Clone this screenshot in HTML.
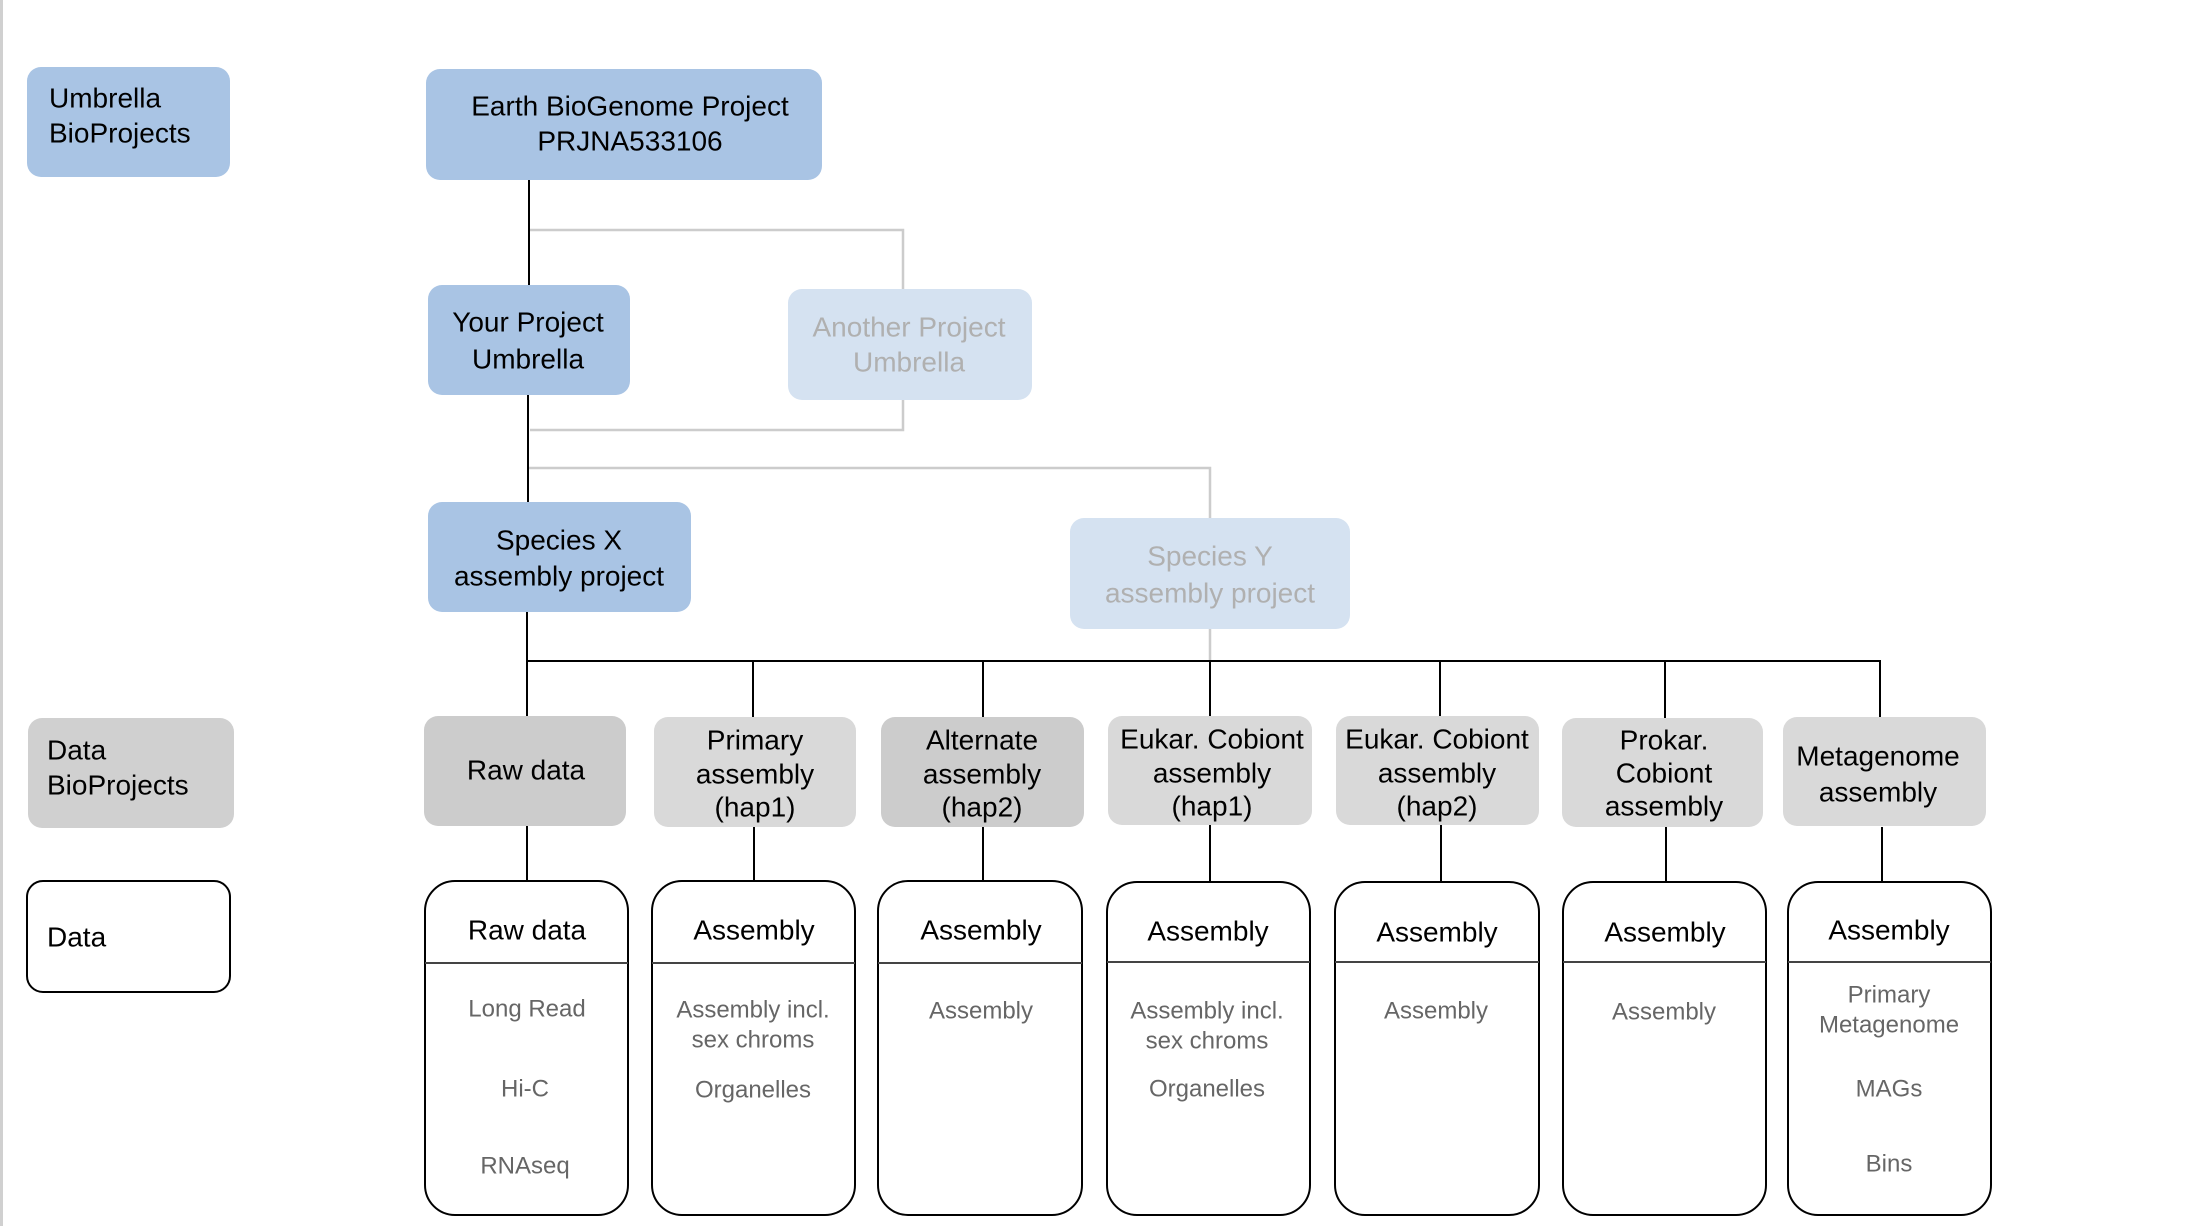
<!DOCTYPE html>
<html><head><meta charset="utf-8"><style>
html,body{margin:0;padding:0;background:#fff;}
svg{display:block;font-family:"Liberation Sans",Arial,sans-serif;}
.t{font-size:28px;fill:#000;text-anchor:middle;dominant-baseline:central;}
.l{font-size:28px;fill:#000;dominant-baseline:central;}
.f{font-size:28px;fill:#b0b0b0;text-anchor:middle;dominant-baseline:central;}
.g{font-size:24px;fill:#666;text-anchor:middle;dominant-baseline:central;}
</style></head><body>
<svg width="2196" height="1226" viewBox="0 0 2196 1226" xmlns="http://www.w3.org/2000/svg">
<line x1="1.5" y1="0" x2="1.5" y2="1226" stroke="#d0d0d0" stroke-width="3"/>
<!-- gray connectors -->
<g stroke="#cccccc" stroke-width="2.5" fill="none">
<polyline points="529,230 903,230 903,289"/>
<polyline points="903,400 903,430 530,430"/>
<polyline points="528,468 1210,468 1210,518"/>
<line x1="1210" y1="629" x2="1210" y2="661"/>
</g>
<!-- black connectors -->
<g stroke="#000" stroke-width="2" fill="none">
<line x1="529" y1="180" x2="529" y2="285"/>
<line x1="528" y1="395" x2="528" y2="502"/>
<line x1="527" y1="612" x2="527" y2="716"/>
<line x1="527" y1="661" x2="1881" y2="661"/>
<line x1="753" y1="661" x2="753" y2="717"/>
<line x1="983" y1="661" x2="983" y2="717"/>
<line x1="1210" y1="661" x2="1210" y2="717"/>
<line x1="1440" y1="661" x2="1440" y2="717"/>
<line x1="1665" y1="661" x2="1665" y2="718"/>
<line x1="1880" y1="661" x2="1880" y2="718"/>
<line x1="527" y1="826" x2="527" y2="882"/>
<line x1="754" y1="827" x2="754" y2="882"/>
<line x1="983" y1="827" x2="983" y2="882"/>
<line x1="1210" y1="825" x2="1210" y2="882"/>
<line x1="1441" y1="825" x2="1441" y2="882"/>
<line x1="1666" y1="827" x2="1666" y2="882"/>
<line x1="1882" y1="827" x2="1882" y2="882"/>
</g>
<!-- blue boxes -->
<g fill="#a9c4e4">
<rect x="27" y="67" width="203" height="110" rx="14"/>
<rect x="426" y="69" width="396" height="111" rx="14"/>
<rect x="428" y="285" width="202" height="110" rx="14"/>
<rect x="428" y="502" width="263" height="110" rx="14"/>
</g>
<g fill="#d5e2f1">
<rect x="788" y="289" width="244" height="111" rx="14"/>
<rect x="1070" y="518" width="280" height="111" rx="14"/>
</g>
<text class="l" x="49" y="98">Umbrella</text>
<text class="l" x="49" y="133">BioProjects</text>
<text class="t" x="630" y="106">Earth BioGenome Project</text>
<text class="t" x="630" y="141">PRJNA533106</text>
<text class="t" x="528" y="322">Your Project</text>
<text class="t" x="528" y="359">Umbrella</text>
<text class="f" x="909" y="327">Another Project</text>
<text class="f" x="909" y="362">Umbrella</text>
<text class="t" x="559" y="540">Species X</text>
<text class="t" x="559" y="576">assembly project</text>
<text class="f" x="1210" y="556">Species Y</text>
<text class="f" x="1210" y="593">assembly project</text>
<!-- gray boxes -->
<rect x="28" y="718" width="206" height="110" rx="14" fill="#d0d0d0"/>
<rect x="424" y="716" width="202" height="110" rx="14" fill="#cccccc"/>
<rect x="654" y="717" width="202" height="110" rx="14" fill="#d9d9d9"/>
<rect x="881" y="717" width="203" height="110" rx="14" fill="#cccccc"/>
<rect x="1108" y="716" width="204" height="109" rx="14" fill="#d9d9d9"/>
<rect x="1336" y="716" width="203" height="109" rx="14" fill="#d9d9d9"/>
<rect x="1562" y="718" width="201" height="109" rx="14" fill="#d9d9d9"/>
<rect x="1783" y="717" width="203" height="109" rx="14" fill="#d9d9d9"/>
<text class="l" x="47" y="750">Data</text>
<text class="l" x="47" y="785">BioProjects</text>
<text class="t" x="526" y="770">Raw data</text>
<text class="t" x="755" y="740">Primary</text>
<text class="t" x="755" y="774">assembly</text>
<text class="t" x="755" y="807">(hap1)</text>
<text class="t" x="982" y="740">Alternate</text>
<text class="t" x="982" y="774">assembly</text>
<text class="t" x="982" y="807">(hap2)</text>
<text class="t" x="1212" y="739">Eukar. Cobiont</text>
<text class="t" x="1212" y="773">assembly</text>
<text class="t" x="1212" y="806">(hap1)</text>
<text class="t" x="1437" y="739">Eukar. Cobiont</text>
<text class="t" x="1437" y="773">assembly</text>
<text class="t" x="1437" y="806">(hap2)</text>
<text class="t" x="1664" y="740">Prokar.</text>
<text class="t" x="1664" y="773">Cobiont</text>
<text class="t" x="1664" y="806">assembly</text>
<text class="t" x="1878" y="756">Metagenome</text>
<text class="t" x="1878" y="792">assembly</text>
<!-- white data boxes -->
<g fill="#fff" stroke="#000" stroke-width="2">
<rect x="27" y="881" width="203" height="111" rx="16"/>
<rect x="425" y="881" width="203" height="334" rx="30"/>
<rect x="652" y="881" width="203" height="334" rx="30"/>
<rect x="878" y="881" width="204" height="334" rx="30"/>
<rect x="1107" y="882" width="203" height="333" rx="30"/>
<rect x="1335" y="882" width="204" height="333" rx="30"/>
<rect x="1563" y="882" width="203" height="333" rx="30"/>
<rect x="1788" y="882" width="203" height="333" rx="30"/>
</g>
<g stroke="#444" stroke-width="2">
<line x1="425" y1="963" x2="628" y2="963"/>
<line x1="652" y1="963" x2="855" y2="963"/>
<line x1="878" y1="963" x2="1082" y2="963"/>
<line x1="1107" y1="962" x2="1310" y2="962"/>
<line x1="1335" y1="962" x2="1539" y2="962"/>
<line x1="1563" y1="962" x2="1766" y2="962"/>
<line x1="1788" y1="962" x2="1991" y2="962"/>
</g>
<text class="l" x="47" y="937">Data</text>
<text class="t" x="527" y="930">Raw data</text>
<text class="t" x="754" y="930">Assembly</text>
<text class="t" x="981" y="930">Assembly</text>
<text class="t" x="1208" y="931">Assembly</text>
<text class="t" x="1437" y="932">Assembly</text>
<text class="t" x="1665" y="932">Assembly</text>
<text class="t" x="1889" y="930">Assembly</text>
<text class="g" x="527" y="1009">Long Read</text>
<text class="g" x="525" y="1089">Hi-C</text>
<text class="g" x="525" y="1166">RNAseq</text>
<text class="g" x="753" y="1010">Assembly incl.</text>
<text class="g" x="753" y="1040">sex chroms</text>
<text class="g" x="753" y="1090">Organelles</text>
<text class="g" x="981" y="1011">Assembly</text>
<text class="g" x="1207" y="1011">Assembly incl.</text>
<text class="g" x="1207" y="1041">sex chroms</text>
<text class="g" x="1207" y="1089">Organelles</text>
<text class="g" x="1436" y="1011">Assembly</text>
<text class="g" x="1664" y="1012">Assembly</text>
<text class="g" x="1889" y="995">Primary</text>
<text class="g" x="1889" y="1025">Metagenome</text>
<text class="g" x="1889" y="1089">MAGs</text>
<text class="g" x="1889" y="1164">Bins</text>
</svg>
</body></html>
